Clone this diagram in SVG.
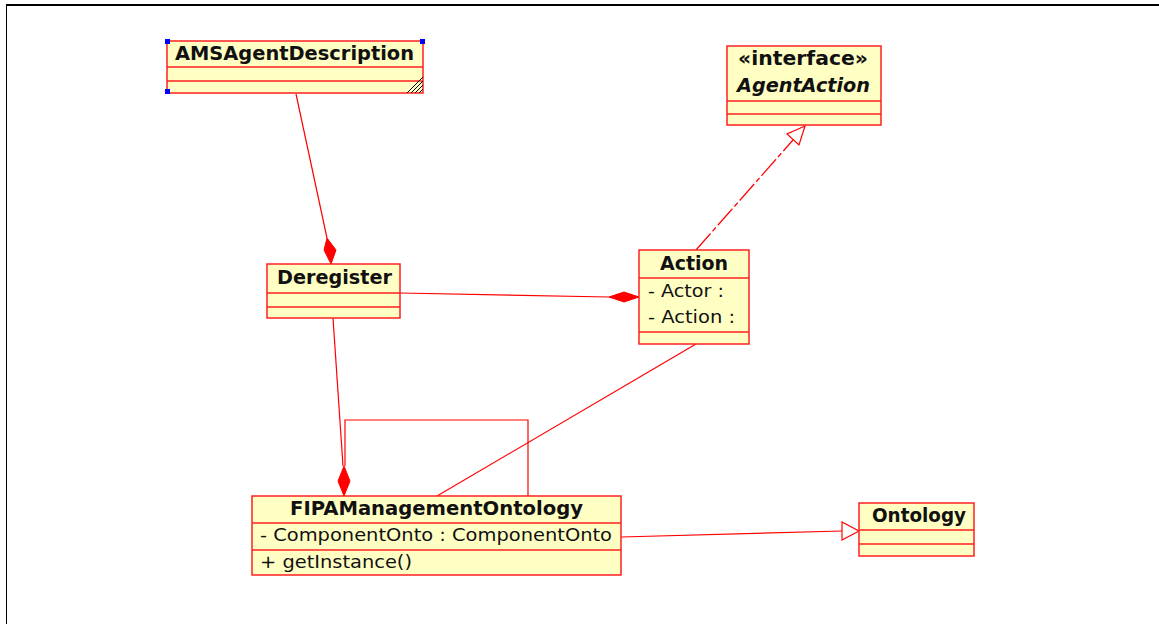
<svg xmlns="http://www.w3.org/2000/svg" width="1159" height="624" viewBox="0 0 1159 624">
  <style>
    .box { fill: #ffffc4; stroke: #ff2020; stroke-width: 1.5; }
    .sep { stroke: #ff2020; stroke-width: 1.5; }
    .title { font-family: "DejaVu Sans", sans-serif; font-weight: bold; font-size: 19px; fill: #111; }
    .member { font-family: "DejaVu Sans", sans-serif; font-size: 18.5px; fill: #111; }
    .edge { fill: none; stroke: #ff0000; stroke-width: 1.2; }
    .diamond { fill: #ff0000; stroke: #ff0000; stroke-width: 1; }
    .hollow { fill: #ffffff; stroke: #ff0000; stroke-width: 1.2; }
    .handle { fill: #0000ff; }
    .grip { stroke: #000; stroke-width: 1; }
  </style>

  <rect width="1159" height="624" fill="#ffffff"/>
  <!-- frame -->
  <line x1="6" y1="5" x2="1159" y2="5" stroke="#000" stroke-width="2"/>
  <line x1="6.5" y1="5" x2="6.5" y2="624" stroke="#000" stroke-width="1"/>

  <!-- connectors -->
  <g id="connectors">
    <!-- AMSAgentDescription composed in Deregister -->
    <line class="edge" x1="296" y1="94" x2="327" y2="238"/>
    <path class="diamond" d="M331,264 L336,250 L327,238 L324,250 Z"/>
    <!-- Deregister composed in Action -->
    <line class="edge" x1="400" y1="293" x2="609" y2="297"/>
    <path class="diamond" d="M639,297 L624,302 L609,297 L624,292 Z"/>
    <!-- Action realizes AgentAction -->
    <line class="edge" x1="696" y1="250" x2="793" y2="140" stroke-dasharray="22 3 5 3"/>
    <path class="hollow" d="M805,126 L799,145 L787,134 Z"/>
    <!-- Deregister composed in FIPAManagementOntology -->
    <line class="edge" x1="333" y1="318" x2="343" y2="466"/>
    <!-- self association loop -->
    <polyline class="edge" points="528,496 528,420 345,420 345,466"/>
    <path class="diamond" d="M344,496 L350,481 L344,466 L338,481 Z"/>
    <!-- Action association with FIPAManagementOntology -->
    <line class="edge" x1="437" y1="496" x2="696" y2="344"/>
    <!-- FIPAManagementOntology extends Ontology -->
    <line class="edge" x1="621" y1="537" x2="842" y2="531"/>
    <path class="hollow" d="M859,531 L842,540 L842,522 Z"/>
  </g>

  <g id="AMSAgentDescription">
    <rect class="box" x="167" y="41" width="256" height="52"/>
    <line class="sep" x1="167" y1="67" x2="423" y2="67"/>
    <line class="sep" x1="167" y1="81" x2="423" y2="81"/>
    <text class="title" x="175" y="60" textLength="239" lengthAdjust="spacingAndGlyphs">AMSAgentDescription</text>
    <rect class="handle" x="165" y="39" width="5" height="5"/>
    <rect class="handle" x="420" y="39" width="5" height="5"/>
    <rect class="handle" x="165" y="89" width="5" height="5"/>
    <line class="grip" x1="407" y1="93" x2="423" y2="77"/>
    <line class="grip" x1="411" y1="93" x2="423" y2="81"/>
    <line class="grip" x1="415" y1="93" x2="423" y2="85"/>
    <line class="grip" x1="419" y1="93" x2="423" y2="89"/>
  </g>

  <g id="AgentAction">
    <rect class="box" x="727" y="46" width="154" height="79"/>
    <line class="sep" x1="727" y1="101" x2="881" y2="101"/>
    <line class="sep" x1="727" y1="114" x2="881" y2="114"/>
    <text class="title" x="738" y="65" textLength="130" lengthAdjust="spacingAndGlyphs">«interface»</text>
    <text class="title" x="737" y="92" font-style="italic" textLength="133" lengthAdjust="spacingAndGlyphs">AgentAction</text>
  </g>

  <g id="Deregister">
    <rect class="box" x="267" y="264" width="133" height="54"/>
    <line class="sep" x1="267" y1="293" x2="400" y2="293"/>
    <line class="sep" x1="267" y1="307" x2="400" y2="307"/>
    <text class="title" x="277" y="284" textLength="115" lengthAdjust="spacingAndGlyphs">Deregister</text>
  </g>

  <g id="Action">
    <rect class="box" x="639" y="250" width="110" height="94"/>
    <line class="sep" x1="639" y1="278" x2="749" y2="278"/>
    <line class="sep" x1="639" y1="332" x2="749" y2="332"/>
    <text class="title" x="660" y="270" textLength="68" lengthAdjust="spacingAndGlyphs">Action</text>
    <text class="member" x="648" y="297" textLength="76" lengthAdjust="spacingAndGlyphs">- Actor :</text>
    <text class="member" x="648" y="323" textLength="87" lengthAdjust="spacingAndGlyphs">- Action :</text>
  </g>

  <g id="FIPAManagementOntology">
    <rect class="box" x="252" y="496" width="369" height="79"/>
    <line class="sep" x1="252" y1="523" x2="621" y2="523"/>
    <line class="sep" x1="252" y1="550" x2="621" y2="550"/>
    <text class="title" x="290" y="515" textLength="293" lengthAdjust="spacingAndGlyphs">FIPAManagementOntology</text>
    <text class="member" x="260" y="541" textLength="352" lengthAdjust="spacingAndGlyphs">- ComponentOnto : ComponentOnto</text>
    <text class="member" x="260" y="568" textLength="152" lengthAdjust="spacingAndGlyphs">+ getInstance()</text>
  </g>

  <g id="Ontology">
    <rect class="box" x="859" y="503" width="115" height="53"/>
    <line class="sep" x1="859" y1="530" x2="974" y2="530"/>
    <line class="sep" x1="859" y1="544" x2="974" y2="544"/>
    <text class="title" x="872" y="522" textLength="94" lengthAdjust="spacingAndGlyphs">Ontology</text>
  </g>
</svg>
